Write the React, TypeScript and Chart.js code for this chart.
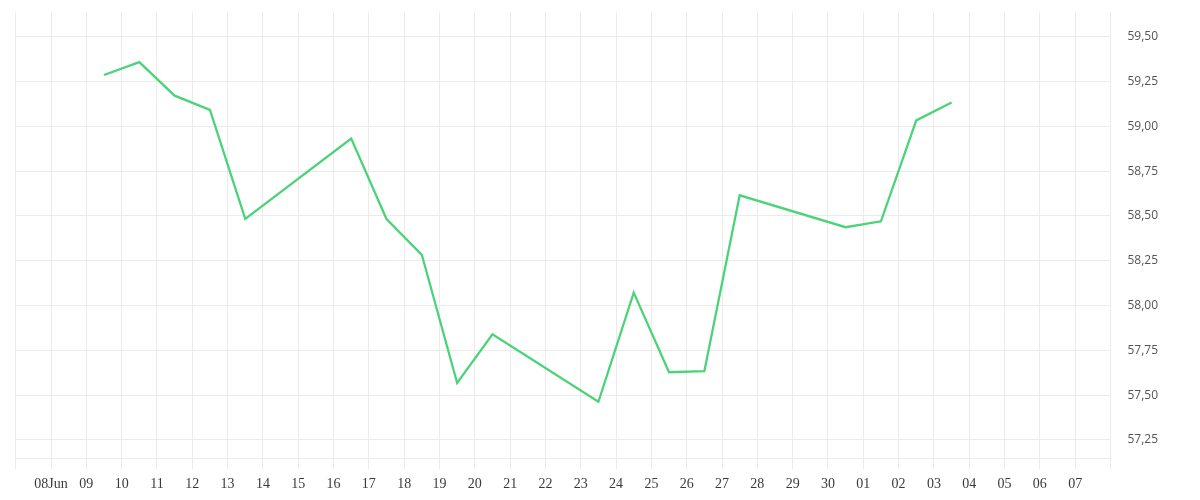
import { useEffect, useRef } from "react"
import { Chart, registerables } from "chart.js"

Chart.register(...registerables)

// days counted from 08 Jun (0 = 08 Jun, 22 = 30 Jun, 23 = 01 Jul)
const tradingDays = [1, 2, 3, 4, 5, 8, 9, 10, 11, 12, 15, 16, 17, 18, 19, 22, 23, 24, 25]
const closes = [
  59.286, 59.358, 59.171, 59.091, 58.483, 58.932, 58.483, 58.283, 57.568, 57.839,
  57.463, 58.072, 57.628, 57.634, 58.615, 58.437, 58.47, 59.033, 59.133,
]
const juneDays = 23 // 08..30 Jun
const xMin = -1
const xMax = 30
const yMin = 57.145
const yMax = 59.636

const gridColor = "#ebebeb"
const lineColor = "#4cd37a"

function dayLabel(v: number) {
  if (v === 0) return "08Jun"
  if (v <= xMin || v >= xMax) return ""
  const d = v < juneDays ? 8 + v : v - juneDays + 1
  return String(d).padStart(2, "0")
}

export default function App() {
  const canvasRef = useRef<HTMLCanvasElement>(null)

  useEffect(() => {
    if (!canvasRef.current) return
    const chart = new Chart(canvasRef.current, {
      type: "line",
      data: {
        datasets: [
          {
            data: tradingDays.map((d, i) => ({ x: d + 0.5, y: closes[i] })),
            borderColor: lineColor,
            borderWidth: 2.3,
            pointRadius: 0,
            tension: 0,
            fill: false,
          },
        ],
      },
      options: {
        animation: false,
        responsive: true,
        maintainAspectRatio: false,
        layout: { padding: { left: 15.7, top: 12.3, right: 0, bottom: 0 } },
        plugins: { legend: { display: false }, tooltip: { enabled: false } },
        scales: {
          x: {
            type: "linear",
            min: xMin,
            max: xMax,
            grid: { color: gridColor, tickLength: 10, tickColor: gridColor },
            border: { color: gridColor },
            ticks: {
              stepSize: 1,
              autoSkip: false,
              maxRotation: 0,
              padding: 7,
              color: "#3a3a3a",
              font: { family: "'Liberation Serif', serif", size: 14 },
              callback: (v) => dayLabel(Number(v)),
            },
            afterFit: (scale) => {
              scale.height = 41.2
            },
          },
          y: {
            type: "linear",
            position: "right",
            min: yMin,
            max: yMax,
            grid: { color: gridColor, drawTicks: true, tickLength: 14, tickColor: "rgba(0,0,0,0)" },
            border: { color: gridColor },
            ticks: {
              stepSize: 0.25,
              includeBounds: false,
              padding: 3,
              color: "#555",
              font: { family: "'Open Sans', sans-serif", size: 12 },
              callback: (v) => Number(v).toFixed(2).replace(".", ","),
            },
            afterFit: (scale) => {
              scale.width = 89.5
            },
          },
        },
      },
    })
    return () => chart.destroy()
  }, [])

  return (
    <div style={{ position: "fixed", left: 0, top: 0, width: 1200, height: 500, background: "#fff" }}>
      <canvas ref={canvasRef}></canvas>
    </div>
  )
}
